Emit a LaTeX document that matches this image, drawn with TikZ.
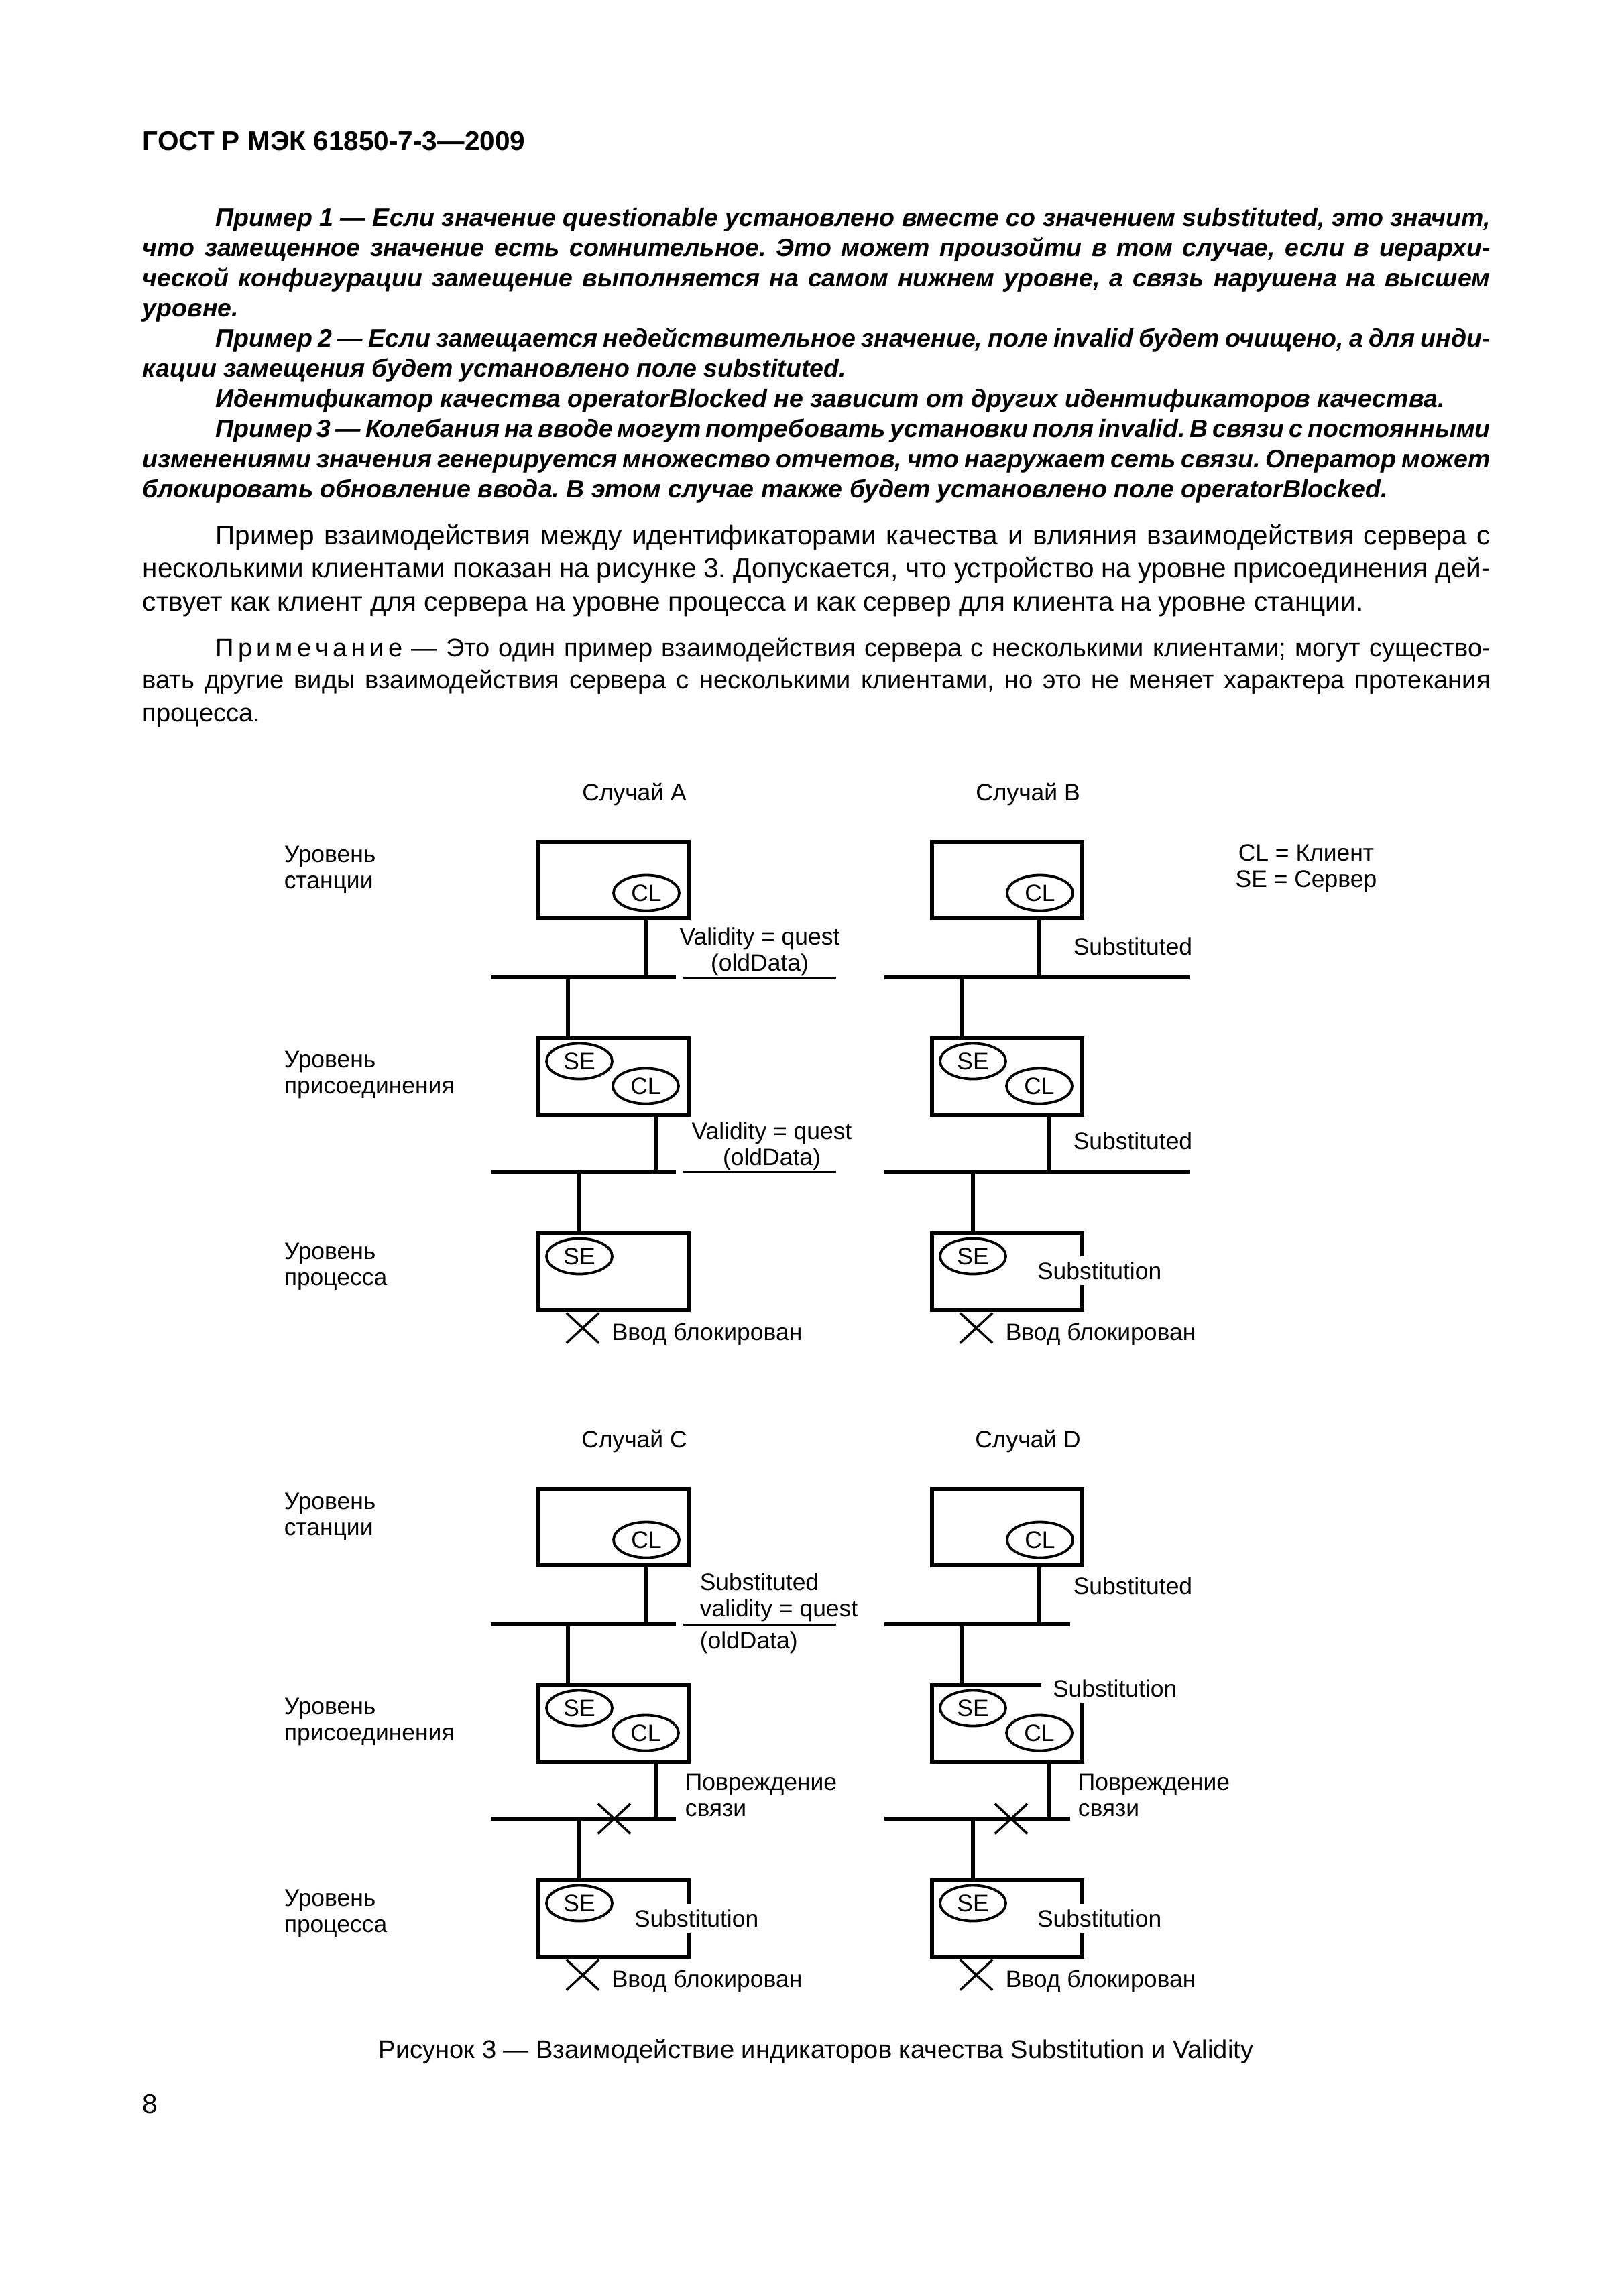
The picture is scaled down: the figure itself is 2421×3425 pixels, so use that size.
\documentclass[tikz,border=0pt]{standalone}
\usepackage{fontspec}
\setmainfont{Liberation Sans}
\usetikzlibrary{shapes.geometric, shapes.misc, positioning}

\newcommand{\dgfont}{\fontsize{8.75pt}{9.7pt}\selectfont}
\newlength{\txtw}
\setlength{\txtw}{174.35mm}
\newcommand{\jline}[1]{\hbox to \txtw{#1}}
\newcommand{\lline}[1]{\hbox to \txtw{#1\hfil}}
\newcommand{\indt}{\kern9.45mm }

\tikzset{
  unit/.style    = {rectangle, draw, line width=0.52mm, minimum width=19.43mm,
                    minimum height=9.89mm, inner sep=0pt},
  oval/.style    = {ellipse, draw, line width=0.33mm, minimum width=8.5mm,
                    minimum height=4.6mm, inner sep=0pt, font=\dgfont},
  xmark/.style   = {cross out, draw, line width=0.3mm, minimum width=3.9mm,
                    minimum height=3.6mm, inner sep=0pt},
  lbl/.style     = {inner sep=0pt, font=\dgfont},
  gap/.style     = {lbl, fill=white, inner xsep=0.5mm, inner ysep=0.75mm, anchor=text},
  wire/.style    = {line width=0.52mm},
  bus/.style     = {line width=0.6mm},
  uline/.style   = {line width=0.26mm},
  textblk/.style = {anchor=base west, inner sep=0pt},
}

\begin{document}
\begin{tikzpicture}[x=0.08674mm, y=-0.08674mm]
  \fill[white] (0,0) rectangle (2421,3425);
  \useasboundingbox (0,0) rectangle (2421,3425);

  % page text
  \node[textblk, font=\fontsize{10pt}{12pt}\selectfont\bfseries] (hdr) at (212,224)
    {ГОСТ Р МЭК 61850-7-3—2009};

  \node[textblk, font=\fontsize{9.25pt}{11.12pt}\selectfont\bfseries\itshape] (expl) at (212,337) {\vtop{%
    \frenchspacing\lineskiplimit=-\maxdimen
    \jline{\indt Пример 1 — Если значение questionable установлено вместе со значением substituted, это значит,}
    \jline{что замещенное значение есть сомнительное. Это может произойти в том случае, если в иерархи-}
    \jline{ческой конфигурации замещение выполняется на самом нижнем уровне, а связь нарушена на высшем}
    \lline{уровне.}
    \jline{\indt Пример 2 — Если замещается недействительное значение, поле invalid будет очищено, а для инди-}
    \lline{кации замещения будет установлено поле substituted.}
    \lline{\indt Идентификатор качества operatorBlocked не зависит от других идентификаторов качества.}
    \jline{\indt Пример 3 — Колебания на вводе могут потребовать установки поля invalid. В связи с постоянными}
    \jline{изменениями значения генерируется множество отчетов, что нагружает сеть связи. Оператор может}
    \lline{блокировать обновление ввода. В этом случае также будет установлено поле operatorBlocked.}}};

  \node[textblk, font=\fontsize{10pt}{12.3pt}\selectfont] (para) at (212,812) {\vtop{%
    \frenchspacing\lineskiplimit=-\maxdimen
    \jline{\indt Пример взаимодействия между идентификаторами качества и влияния взаимодействия сервера с}
    \jline{несколькими клиентами показан на рисунке 3. Допускается, что устройство на уровне присоединения дей-}
    \lline{ствует как клиент для сервера на уровне процесса и как сервер для клиента на уровне станции.}}};

  \node[textblk, font=\fontsize{9.4pt}{12.05pt}\selectfont] (note) at (212,979) {\vtop{%
    \frenchspacing\lineskiplimit=-\maxdimen
    \jline{\indt П\,р\,и\,м\,е\,ч\,а\,н\,и\,е — Это один пример взаимодействия сервера с несколькими клиентами; могут существо-}
    \jline{вать другие виды взаимодействия сервера с несколькими клиентами, но это не меняет характера протекания}
    \lline{процесса.}}};

  % four cases
  \foreach \cas/\dx/\dy/\br in {A/0/0/1008, B/587/0/1187, C/0/965/1008, D/587/965/1009} {
    \begin{scope}[shift={(\dx,\dy)}]
      \node[lbl, anchor=north] (ttl\cas) at (946,1167) {Случай \cas};
      \node[unit] (st\cas)  at (915,1313) {};
      \node[unit] (bay\cas) at (915,1606) {};
      \node[unit] (pr\cas)  at (915,1897) {};
      \node[oval] (clst\cas)  at (964,1332) {CL};
      \node[oval] (sebay\cas) at (864,1583) {SE};
      \node[oval] (clbay\cas) at (963,1620) {CL};
      \node[oval] (sepr\cas)  at (864,1874) {SE};
      \draw[bus] (732,1458) -- (\br,1458);
      \draw[bus] (732,1748) -- (\br,1748);
      \coordinate (tst\cas)  at (963,1458);
      \coordinate (tbay\cas) at (847,1458);
      \coordinate (tbus\cas) at (978,1748);
      \coordinate (tpr\cas)  at (864,1748);
      \draw[wire] (st\cas.south -| tst\cas) -- (tst\cas);
      \draw[wire] (tbay\cas) -- (tbay\cas |- bay\cas.north);
      \draw[wire] (bay\cas.south -| tbus\cas) -- (tbus\cas);
      \draw[wire] (tpr\cas) -- (tpr\cas |- pr\cas.north);
      \node[xmark] (blk\cas) at (869,1981) {};
      \node[lbl, anchor=north west] (inp\cas) at (912,1973) {Ввод блокирован};
    \end{scope}
  }

  % level names
  \foreach \i/\dy in {1/0, 2/965} {
    \node[lbl, anchor=north west, align=left] (lvst\i)  at (423,1261+\dy) {Уровень\\станции};
    \node[lbl, anchor=north west, align=left] (lvbay\i) at (423,1567+\dy) {Уровень\\присоединения};
    \node[lbl, anchor=north west, align=left] (lvpr\i)  at (423,1853+\dy) {Уровень\\процесса};
  }

  \node[lbl, anchor=north, align=center] (legend) at (1948,1259) {CL = Клиент\\SE = Сервер};

  % case A
  \node[lbl, anchor=north, align=center] (qA1) at (1133,1383) {Validity = quest\\(oldData)};
  \node[lbl, anchor=north, align=center] (qA2) at (1151,1673) {Validity = quest\\(oldData)};
  \draw[uline] (1019,1458) -- (1247,1458);
  \draw[uline] (1019,1748) -- (1247,1748);

  % case B
  \node[lbl, anchor=north west] (sB1) at (1600,1398) {Substituted};
  \node[lbl, anchor=north west] (sB2) at (1600,1688) {Substituted};
  \node[gap] (subB) at (1547,1908) {Substitution};

  % case C
  \node[lbl, anchor=north west, align=left] (sC1) at (1043,2346) {Substituted\\validity = quest};
  \node[lbl, anchor=north west] (oldC) at (1043,2433) {(oldData)};
  \draw[uline] (1019,2423) -- (1247,2423);
  \node[lbl, anchor=north west, align=left] (failC) at (1021,2645) {Повреждение\\связи};
  \node[xmark] (cutC) at (916,2713) {};
  \node[gap] (subC) at (946,2874) {Substitution};

  % case D
  \node[lbl, anchor=north west] (sD1) at (1600,2352) {Substituted};
  \node[gap, inner xsep=1.5mm] (subD1) at (1570,2531) {Substitution};
  \node[lbl, anchor=north west, align=left] (failD) at (1607,2645) {Повреждение\\связи};
  \node[xmark] (cutD) at (1508,2713) {};
  \node[gap] (subD2) at (1547,2874) {Substitution};

  \node[anchor=base, inner sep=0pt, font=\fontsize{9.4pt}{11pt}\selectfont] (cap) at (1217,3070)
    {Рисунок 3 — Взаимодействие индикаторов качества Substitution и Validity};
  \node[textblk, font=\fontsize{10pt}{12pt}\selectfont] (pnum) at (212,3152) {8};
\end{tikzpicture}
\end{document}
